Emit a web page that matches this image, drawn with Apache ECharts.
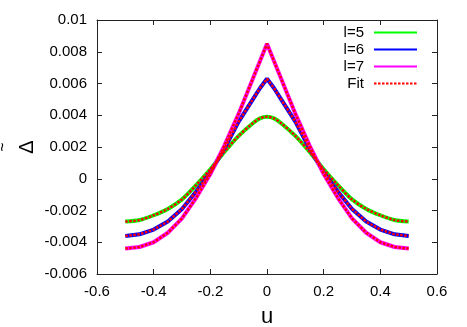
<!DOCTYPE html>
<html>
<head>
<meta charset="utf-8">
<script src="https://cdn.jsdelivr.net/npm/echarts@6/dist/echarts.min.js"></script>
<style>
  html, body { margin: 0; padding: 0; background: #fff; }
  #chart { width: 467px; height: 327px; }
</style>
</head>
<body>
<div id="chart"></div>
<script>
// sample positions (u) and values
const uValues = [-0.5, -0.45, -0.4, -0.35, -0.3, -0.25, -0.2, -0.15, -0.1, -0.05, -0.025, 0,
  0.025, 0.05, 0.1, 0.15, 0.2, 0.25, 0.3, 0.35, 0.4, 0.45, 0.5]
const l5 = [-0.0027, -0.0026, -0.0023, -0.0019, -0.0013, -0.0004, 0.0006, 0.0017, 0.0027, 0.0035, 0.0038, 0.0039,
  0.0038, 0.0035, 0.0027, 0.0017, 0.0006, -0.0004, -0.0013, -0.0019, -0.0023, -0.0026, -0.0027]
const l6 = [-0.0036, -0.0035, -0.0032, -0.0027, -0.0019, -0.0008, 0.0004, 0.0019, 0.0036, 0.0050, 0.0057, 0.0063,
  0.0057, 0.0050, 0.0036, 0.0019, 0.0004, -0.0008, -0.0019, -0.0027, -0.0032, -0.0035, -0.0036]
const l7 = [-0.0044, -0.0043, -0.0040, -0.0034, -0.0025, -0.0012, 0.0003, 0.0021, 0.0041, 0.0063, 0.0074, 0.0085,
  0.0074, 0.0063, 0.0041, 0.0021, 0.0003, -0.0012, -0.0025, -0.0034, -0.0040, -0.0043, -0.0044]
// fits lie on top of the data
const fit5 = l5
const fit6 = l6
const fit7 = l7

const xTicks = { min: -0.6, max: 0.6, interval: 0.2 }
const yTicks = { min: -0.006, max: 0.01, interval: 0.002 }

const font = 'Liberation Sans'
const pairs = (ys) => uValues.map((u, i) => [u, ys[i]])

const myChart = echarts.init(document.getElementById('chart'))

const axisBase = {
  type: 'value',
  splitLine: { show: false },
  axisLine: { show: true, onZero: false, lineStyle: { color: '#222', width: 1 } },
  axisTick: { show: true, inside: true, length: 5, lineStyle: { color: '#222' } },
  axisLabel: { color: '#000', fontSize: 15, fontFamily: font, margin: 10 }
}

// l=5 is rounded at the top, l=6 and l=7 come to a point
const dataLine = (name, ys, color, smooth) => ({
  name: name,
  type: 'line',
  data: pairs(ys),
  symbol: 'none',
  smooth: smooth,
  lineStyle: { color: color, width: 4 },
  itemStyle: { color: color },
  z: 2
})

const fitLine = (ys, smooth) => ({
  name: 'Fit',
  type: 'line',
  data: pairs(ys),
  symbol: 'none',
  smooth: smooth,
  lineStyle: { color: '#ff0000', width: 2.5, type: [2.5, 1.5] },
  itemStyle: { color: '#ff0000' },
  z: 3
})

myChart.setOption({
  animation: false,
  grid: { left: 97, right: 30, top: 20, bottom: 53, containLabel: false, outerBoundsMode: 'none' },
  legend: {
    orient: 'vertical',
    right: 44,
    top: 20,
    align: 'right',
    itemWidth: 43,
    itemHeight: 12,
    itemGap: 2,
    data: ['l=5', 'l=6', 'l=7', 'Fit'],
    // hide the marker dot, keep the line sample
    itemStyle: { opacity: 0 },
    textStyle: { color: '#000', fontSize: 15, lineHeight: 14, fontFamily: font, padding: [0, 5, 0, 0] }
  },
  xAxis: [
    Object.assign({}, axisBase, xTicks, {
      position: 'bottom',
      name: 'u',
      nameLocation: 'middle',
      nameGap: 32,
      nameMoveOverlap: false,
      nameTextStyle: { color: '#000', fontSize: 22, fontFamily: font }
    }),
    Object.assign({}, axisBase, xTicks, { position: 'top', axisLabel: { show: false } })
  ],
  yAxis: [
    Object.assign({}, axisBase, yTicks, {
      position: 'left',
      name: '{t|~}\n{d|\u0394}',
      nameLocation: 'middle',
      nameRotate: 90,
      nameGap: 59,
      nameMoveOverlap: false,
      nameTextStyle: {
        color: '#000',
        fontFamily: font,
        align: 'center',
        verticalAlign: 'bottom',
        rich: {
          t: { fontSize: 16, lineHeight: 24, fontFamily: font },
          d: { fontSize: 20, lineHeight: 22, fontFamily: font }
        }
      }
    }),
    Object.assign({}, axisBase, yTicks, { position: 'right', axisLabel: { show: false } })
  ],
  series: [
    dataLine('l=5', l5, '#00ff00', 0.3),
    dataLine('l=6', l6, '#0000ff', false),
    dataLine('l=7', l7, '#ff00ff', false),
    fitLine(fit5, 0.3),
    fitLine(fit6, false),
    fitLine(fit7, false)
  ]
})
</script>
</body>
</html>
